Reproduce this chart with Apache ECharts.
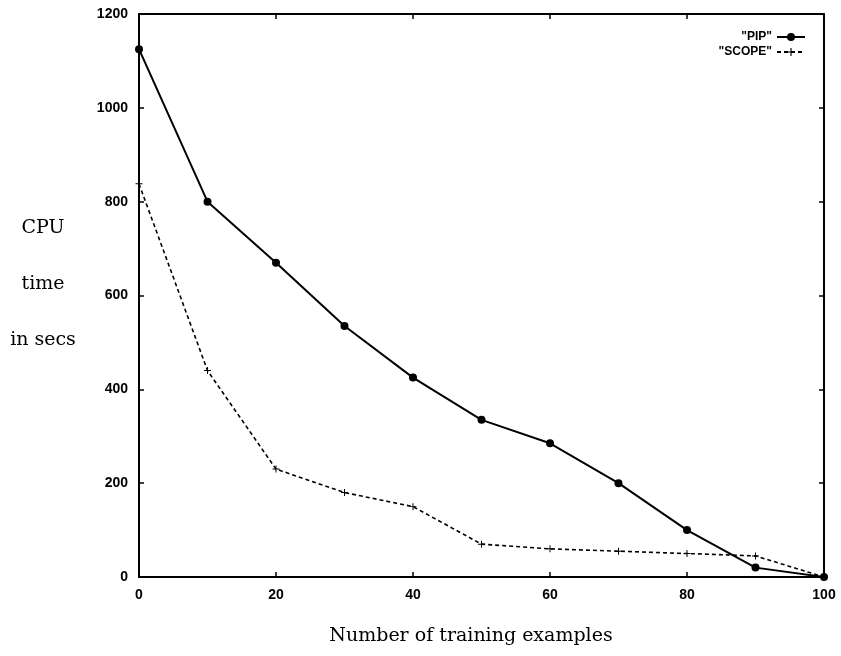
<!DOCTYPE html>
<html>
<head>
<meta charset="utf-8">
<script src="https://cdn.jsdelivr.net/npm/echarts@6/dist/echarts.min.js"></script>
<style>html,body{margin:0;padding:0;background:#fff;}#c{width:841px;height:656px;}</style>
</head>
<body>
<div id="c"></div>
<script>
var xValues = [0, 10, 20, 30, 40, 50, 60, 70, 80, 90, 100];
var pipValues = [1125, 800, 670, 535, 425, 335, 285, 200, 100, 20, 0];
var scopeValues = [838, 440, 230, 180, 150, 70, 60, 55, 50, 45, 0];
var xTicks = [0, 20, 40, 60, 80, 100];
var yTicks = [0, 200, 400, 600, 800, 1000, 1200];
var seriesNames = ['"PIP"', '"SCOPE"'];
var yTitleLines = ['CPU', 'time', 'in secs'];
var xTitle = 'Number of training examples';

function pairs(vals) { return xValues.map(function (x, i) { return [x, vals[i]]; }); }

var plus = 'path://M-0.14,-1 L0.14,-1 L0.14,-0.14 L1,-0.14 L1,0.14 L0.14,0.14 L0.14,1 L-0.14,1 L-0.14,0.14 L-1,0.14 L-1,-0.14 L-0.14,-0.14Z';
var labelFont = { color: '#000', fontFamily: 'Liberation Sans', fontWeight: 'bold', fontSize: 14,
  formatter: function (v) { return String(v); } };

var chart = echarts.init(document.getElementById('c'), null, { renderer: 'canvas' });
var axisCommon = {
  type: 'value', min: 0,
  axisLine: { show: true, onZero: false, lineStyle: { color: '#000', width: 2 } },
  axisTick: { show: true, inside: true, length: 5, lineStyle: { color: '#000', width: 1.5 } },
  splitLine: { show: false }
};
chart.setOption({
  animation: false,
  backgroundColor: '#fff',
  grid: { left: 139, right: 17, top: 14, bottom: 79, containLabel: false },
  legend: {
    orient: 'vertical', right: 30, top: 26, align: 'right', itemGap: 3,
    itemWidth: 28, itemHeight: 10,
    textStyle: { color: '#000', fontFamily: 'Liberation Sans', fontWeight: 'bold', fontSize: 12, padding: [0, 0, 0, 0] },
    data: seriesNames
  },
  xAxis: [
    Object.assign({}, axisCommon, { max: 100, interval: 20, position: 'bottom',
      axisLabel: Object.assign({ margin: 11 }, labelFont) }),
    Object.assign({}, axisCommon, { max: 100, interval: 20, position: 'top', axisLabel: { show: false } })
  ],
  yAxis: [
    Object.assign({}, axisCommon, { max: 1200, interval: 200, position: 'left',
      axisLabel: Object.assign({ margin: 11 }, labelFont) }),
    Object.assign({}, axisCommon, { max: 1200, interval: 200, position: 'right', axisLabel: { show: false } })
  ],
  series: [
    { name: seriesNames[0], type: 'line', data: pairs(pipValues), symbol: 'circle', symbolSize: 8,
      lineStyle: { color: '#000', width: 2 }, itemStyle: { color: '#000' } },
    { name: seriesNames[1], type: 'line', data: pairs(scopeValues), symbol: plus, symbolSize: 7,
      lineStyle: { color: '#000', width: 1.6, type: [4, 3] }, itemStyle: { color: '#000' } }
  ],
  graphic: yTitleLines.map(function (t, i) {
    return { type: 'text', x: 43, y: 228 + i * 56,
      style: { text: t, fill: '#000', font: '19px "DejaVu Serif"', textAlign: 'center', textVerticalAlign: 'middle' } };
  }).concat([
    { type: 'text', x: 471, y: 636,
      style: { text: xTitle, fill: '#000', font: '19px "DejaVu Serif"', textAlign: 'center', textVerticalAlign: 'middle' } }
  ])
});
</script>
</body>
</html>
